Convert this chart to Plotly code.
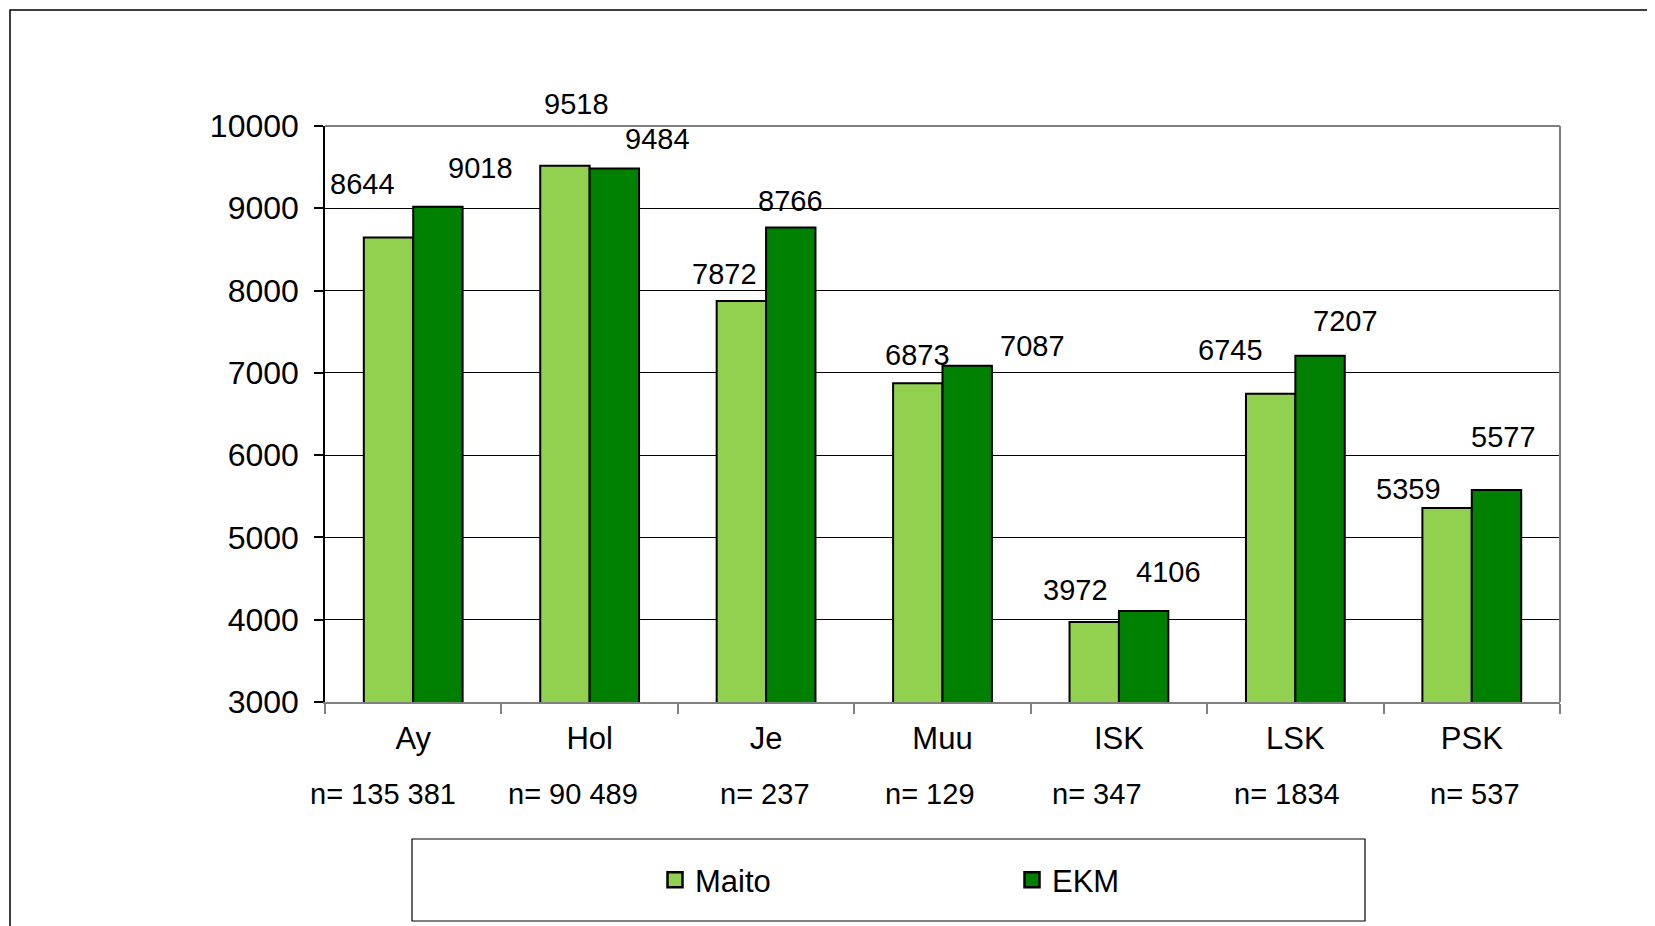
import plotly.graph_objects as go

categories = ["Ay", "Hol", "Je", "Muu", "ISK", "LSK", "PSK"]
n_labels = ["n= 135 381", "n= 90 489", "n= 237", "n= 129", "n= 347", "n= 1834", "n= 537"]
maito = [8644, 9518, 7872, 6873, 3972, 6745, 5359]
ekm = [9018, 9484, 8766, 7087, 4106, 7207, 5577]

# label offsets in pixels (style): (dx, dy) relative to bar top centre
maito_off = [(-26, 54), (12, 62), (-17, 27), (0, 28), (-19, 32), (-40, 44), (-39, 19)]
ekm_off = [(43, 39), (43, 29), (0, 27), (65, 20), (25, 39), (25, 35), (7, 53)]
n_off = [-30, -17, -1, -13, -22, -8, 3]

FONT = "Arial, Liberation Sans, sans-serif"
W, H = 1655, 926
OFF = 8  # html body margin
L, R, T, B = 325 - OFF, 1560 - OFF, 126 - OFF, 702 - OFF


def px(x):
    return (x - OFF - L) / (R - L)


def py(y):
    return (B - (y - OFF)) / (B - T)


fig = go.Figure()
fig.add_trace(go.Bar(name="Maito", x=categories, y=maito, showlegend=False,
                     marker=dict(color="#92D050", line=dict(color="black", width=2))))
fig.add_trace(go.Bar(name="EKM", x=categories, y=ekm, showlegend=False,
                     marker=dict(color="#008000", line=dict(color="black", width=2))))
# legend entries
for name, col in (("Maito", "#92D050"), ("EKM", "#008000")):
    fig.add_trace(go.Scatter(name=name, x=[None], y=[None], mode="markers",
                             marker=dict(symbol="square", size=15, color=col, line=dict(color="black", width=2.5))))

bargap = 0.44
cat_w = (R - L) / len(categories)
half = cat_w * (1 - bargap) / 4

ann = []
for i, c in enumerate(categories):
    for vals, offs, sgn in ((maito, maito_off, -1), (ekm, ekm_off, 1)):
        dx, dy = offs[i]
        ann.append(dict(x=c, y=vals[i], xref="x", yref="y", text=str(vals[i]), showarrow=False,
                        xanchor="center", yanchor="middle",
                        xshift=sgn * half + dx, yshift=dy, font=dict(size=29, color="black", family=FONT)))
    ann.append(dict(x=c, y=py(794), xref="x", yref="paper", text=n_labels[i], showarrow=False,
                    xanchor="center", yanchor="middle", xshift=n_off[i],
                    font=dict(size=29, color="black", family=FONT)))

shapes = [
    # outer chart border
    dict(type="rect", xref="paper", yref="paper", x0=px(10), x1=px(1700), y0=py(10), y1=py(1000),
         line=dict(color="black", width=1.5), fillcolor="rgba(0,0,0,0)", layer="below"),
    # plot area top/right border
    dict(type="line", xref="paper", yref="paper", x0=0, x1=1, y0=1, y1=1, line=dict(color="#808080", width=2)),
    dict(type="line", xref="paper", yref="paper", x0=1, x1=1, y0=0, y1=1, line=dict(color="#808080", width=2)),
    # legend box
    dict(type="rect", xref="paper", yref="paper", x0=px(412), x1=px(1365), y0=py(839), y1=py(921),
         line=dict(color="black", width=1.2), fillcolor="white", layer="below"),
]

fig.update_layout(
    width=W, height=H,
    margin=dict(l=L, r=W - R, t=T, b=H - B, autoexpand=False),
    paper_bgcolor="white", plot_bgcolor="white",
    barmode="group", bargap=bargap, bargroupgap=0,
    font=dict(family=FONT, size=30, color="black"),
    showlegend=True,
    legend=dict(orientation="h", x=px(655), y=py(880), xanchor="left", yanchor="middle",
                entrywidth=312, entrywidthmode="pixels", itemwidth=30,
                font=dict(size=31, family=FONT),
                bgcolor="rgba(0,0,0,0)", borderwidth=0),
    annotations=ann,
    shapes=shapes,
)
fig.update_xaxes(type="category", categoryorder="array", categoryarray=categories,
                 range=[-0.5, len(categories) - 0.5], autorange=False,
                 showline=True, linecolor="#808080", linewidth=2,
                 ticks="outside", tickson="boundaries", ticklen=10, tickcolor="#808080", tickwidth=1.5,
                 showgrid=False, tickfont=dict(size=31, family=FONT), ticklabelstandoff=8)
fig.update_yaxes(range=[3000, 10000], autorange=False, dtick=1000, tickformat="d", showline=True,
                 linecolor="black", linewidth=1.5,
                 ticks="outside", ticklen=9, tickcolor="black", tickwidth=1.5,
                 showgrid=True, gridcolor="black", gridwidth=1, zeroline=False,
                 tickfont=dict(size=32, family=FONT), ticklabelstandoff=9)

fig.write_html("out.html")
